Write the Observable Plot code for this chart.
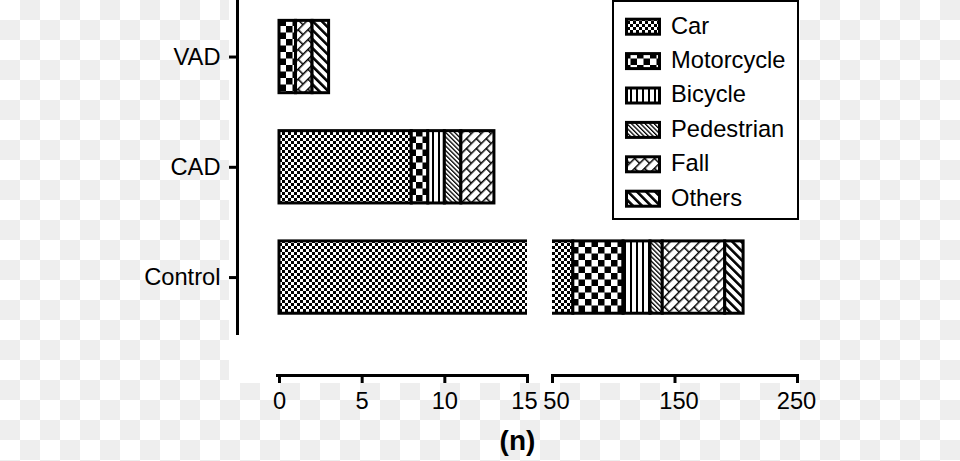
<!DOCTYPE html>
<html>
<head>
<meta charset="utf-8">
<script src="https://cdn.jsdelivr.net/npm/d3@7"></script>
<script src="https://cdn.jsdelivr.net/npm/@observablehq/plot@0.6"></script>
<style>
html, body { margin: 0; padding: 0; }
body {
  width: 960px; height: 461px; overflow: hidden; position: relative;
  background: repeating-conic-gradient(#eee 0 25%, #fff 0 50%) 0 0 / 40px 40px;
  font-family: "Liberation Sans", Arial, sans-serif;
}
#panel { position: absolute; left: 229px; top: 0; width: 571px; height: 383px; background: #fff; }
.layer { position: absolute; left: 0; top: 0; }
</style>
</head>
<body>
<div id="panel"></div>
<div id="yaxis" class="layer"></div>
<div id="left" class="layer"></div>
<div id="right" class="layer"></div>
<div id="overlay" class="layer"></div>
<script>
// ---- data ----
const groups = ["VAD", "CAD", "Control"];
const types = ["Car", "Motorcycle", "Bicycle", "Pedestrian", "Fall", "Others"];
const vad = [0, 1, 0, 0, 1, 1];
const cad = [8, 1, 1, 1, 2, 0];
const control = [67, 41, 22, 10, 51, 15];
const leftTicks = [0, 5, 10, 15];
const rightTicks = [50, 150, 250];
const xLabel = "(n)";

const values = {VAD: vad, CAD: cad, Control: control};
const rows = groups.flatMap(g => types.map((t, i) => ({group: g, type: t, n: values[g][i]}))).filter(d => d.n > 0);

const FONT = '"Liberation Sans", Arial, sans-serif';
const FS = "23.7px";

// ---- overlay svg with pattern defs, legend and x label ----
const ov = d3.select("#overlay").append("svg").attr("width", 960).attr("height", 461)
  .style("overflow", "visible").style("font-family", FONT);
const defs = ov.append("defs");
const patIds = types.map((t, i) => "pat" + i);
function pat(id, w, h, transform) {
  const p = defs.append("pattern").attr("id", id).attr("patternUnits", "userSpaceOnUse")
    .attr("width", w).attr("height", h);
  if (transform) p.attr("patternTransform", transform);
  p.append("rect").attr("width", w).attr("height", h).attr("fill", "#fff");
  return p;
}
// Car: fine checkerboard
pat("pat0", 6, 6).append("path").attr("d", "M0,0h3v3h-3zM3,3h3v3h-3z").attr("fill", "#000");
// Motorcycle: coarse checkerboard
pat("pat1", 13, 13).append("path").attr("d", "M0,0h6.5v6.5h-6.5zM6.5,6.5h6.5v6.5h-6.5z").attr("fill", "#000");
// Bicycle: vertical lines
pat("pat2", 6, 6).append("rect").attr("width", 2).attr("height", 6).attr("fill", "#000");
// Pedestrian: fine diagonal
pat("pat3", 3.2, 3.2, "rotate(-45)").append("rect").attr("width", 1.3).attr("height", 3.2).attr("fill", "#000");
// Fall: rotated brick
const pf = pat("pat4", 14, 14, "rotate(-45)");
pf.append("path").attr("d", "M0,0.75H14M0,7.75H14M0.75,0.75V7.75M7.75,7.75V14.75")
  .attr("stroke", "#000").attr("stroke-width", 1.5).attr("fill", "none");
// Others: thick diagonal
pat("pat5", 6.4, 6.4, "rotate(-45)").append("rect").attr("width", 2.6).attr("height", 6.4).attr("fill", "#000");

// legend
ov.append("rect").attr("x", 613).attr("y", 1).attr("width", 185).attr("height", 218)
  .attr("fill", "#fff").attr("stroke", "#000").attr("stroke-width", 2);
types.forEach((t, i) => {
  const cy = 26.7 + i * 34.4;
  ov.append("rect").attr("x", 626.5).attr("y", cy - 7.5).attr("width", 33).attr("height", 15)
    .attr("fill", `url(#${patIds[i]})`).attr("stroke", "#000").attr("stroke-width", 3);
  ov.append("text").attr("x", 671).attr("y", 33.5 + i * 34.4).attr("font-size", FS).attr("fill", "#000").text(t);
});
// x label
ov.append("text").attr("x", 517.5).attr("y", 450).attr("text-anchor", "middle")
  .attr("font-size", "28px").attr("font-weight", "bold").attr("fill", "#000").text(xLabel);

// ---- shared scales ----
const yOpts = {domain: groups, range: [1.4, 332.2], paddingInner: 0.344, paddingOuter: 0.172, round: false};
const colorOpts = {type: "ordinal", domain: types, range: patIds.map(id => `url(#${id})`), legend: false};
const style = {background: "transparent", fontFamily: FONT, fontSize: FS, color: "#000", overflow: "visible"};
const tickOpts = {tickSize: 8, strokeWidth: 3, label: null, tickFormat: () => ""};
const textOpts = {tickSize: 0, tickPadding: 17, label: null, tickFormat: d => String(d)};

// y axis
document.getElementById("yaxis").append(Plot.plot({
  width: 240, height: 333, marginLeft: 237, marginRight: 0, marginTop: 0, marginBottom: 0,
  y: {...yOpts},
  style,
  marks: [
    Plot.frame({anchor: "left", strokeWidth: 3}),
    Plot.axisY({tickSize: 8, tickPadding: 9, strokeWidth: 3, label: null})
  ]
}));

// left segment 0-15
document.getElementById("left").append(Plot.plot({
  width: 540, height: 461, marginLeft: 277, marginRight: 13, marginTop: 0, marginBottom: 86,
  x: {domain: [0, 15], range: [279, 527]},
  y: {...yOpts, axis: null},
  color: colorOpts,
  style,
  marks: [
    Plot.barX(rows, {x: "n", y: "group", fill: "type", stroke: "#000", strokeWidth: 3, clip: true}),
    Plot.frame({anchor: "bottom", strokeWidth: 3}),
    Plot.axisX({ticks: leftTicks, ...tickOpts}),
    Plot.axisX({ticks: leftTicks.slice(0, 3), ...textOpts}),
    Plot.axisX({ticks: leftTicks.slice(3), ...textOpts, dx: -3})
  ]
}));

// right segment 50-250
document.getElementById("right").append(Plot.plot({
  width: 810, height: 461, marginLeft: 552, marginRight: 13, marginTop: 0, marginBottom: 86,
  x: {domain: [50, 250], range: [552, 797]},
  y: {...yOpts, axis: null},
  color: colorOpts,
  style,
  marks: [
    Plot.barX(rows, {x: "n", y: "group", fill: "type", stroke: "#000", strokeWidth: 3, clip: true}),
    Plot.frame({anchor: "bottom", strokeWidth: 3}),
    Plot.axisX({ticks: rightTicks, ...tickOpts}),
    Plot.axisX({ticks: rightTicks.slice(0, 2), ...textOpts, dx: 4}),
    Plot.axisX({ticks: rightTicks.slice(2), ...textOpts, dx: -1})
  ]
}));
</script>
</body>
</html>
